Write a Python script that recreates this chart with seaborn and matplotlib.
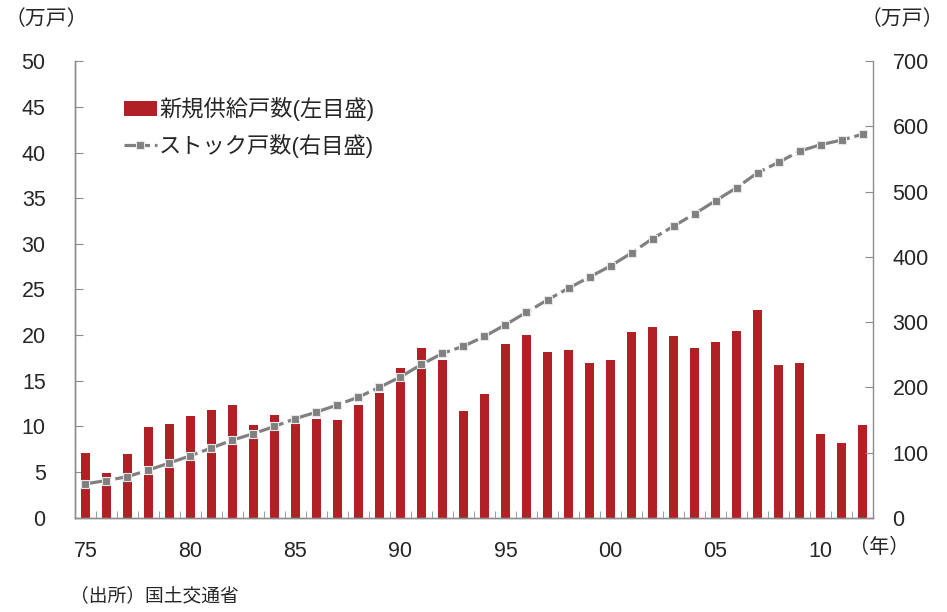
import numpy as np
import pandas as pd
import seaborn as sns
import matplotlib.pyplot as plt
from matplotlib.ticker import FixedLocator

years = list(range(1975, 2013))
new_supply = [7.1, 4.9, 7.0, 9.9, 10.3, 11.1, 11.8, 12.4, 10.2, 11.3,
              10.3, 10.8, 10.7, 12.3, 13.7, 16.4, 18.6, 17.3, 11.7, 13.6,
              19.0, 20.0, 18.2, 18.4, 16.9, 17.3, 20.3, 20.9, 19.9, 18.6,
              19.3, 20.5, 22.7, 16.7, 17.0, 9.2, 8.2, 10.2]
stock = [52, 57, 63, 73, 84, 95, 107, 119, 129, 140,
         152, 162, 173, 185, 200, 216, 235, 252, 263, 278,
         296, 315, 334, 352, 369, 386, 406, 428, 447, 466,
         486, 506, 529, 545, 562, 572, 579, 588]
year_labels = ['75', '80', '85', '90', '95', '00', '05', '10']

df = pd.DataFrame({'year': years, 'new': new_supply, 'stock': stock})

sns.set_style('white')
plt.rcParams['font.family'] = ['Liberation Sans', 'Noto Sans CJK JP']
AX_COLOR = '#8c8c8c'

fig = plt.figure(figsize=(9.47, 6.12), dpi=100)
ax = fig.add_axes([0.079, 0.154, 0.843, 0.746])
sns.barplot(data=df, x='year', y='new', native_scale=True, width=0.4,
            color='#b02025', saturation=1, edgecolor='none', ax=ax)
ax.set_xlim(1974.5, 2012.5)
ax.set_ylim(0, 50)
ax.set_yticks(np.arange(0, 51, 5))
ax.set_xticks([1975, 1980, 1985, 1990, 1995, 2000, 2005, 2010])
ax.set_xticklabels(year_labels)
ax.xaxis.set_minor_locator(FixedLocator(np.arange(1974.5, 2013, 1)))
ax.tick_params(axis='x', which='major', length=0, pad=17, labelsize=15.5)
ax.tick_params(axis='x', which='minor', direction='in', length=5,
               color=AX_COLOR, bottom=True)
ax.tick_params(axis='y', direction='in', length=6, color=AX_COLOR,
               left=True, pad=21, labelsize=15.5)
ax.set_xlabel('')
ax.set_ylabel('')

ax2 = ax.twinx()
sns.lineplot(data=df, x='year', y='stock', color='#808080', linewidth=2.3,
             marker='s', markersize=6, markerfacecolor='#808080',
             markeredgecolor='#e6e6e6', markeredgewidth=0.8, ax=ax2)
ax2.lines[0].set_dashes([8, 1.5])
ax2.set_ylim(0, 700)
ax2.set_yticks(np.arange(0, 701, 100))
ax2.tick_params(axis='y', direction='in', length=6, color=AX_COLOR,
                right=True, pad=14, labelsize=15.5)
ax2.set_ylabel('')

for a in (ax, ax2):
    a.spines['top'].set_visible(False)
    for s in ('left', 'right', 'bottom'):
        a.spines[s].set_color(AX_COLOR)
        a.spines[s].set_linewidth(1.0)
ax.spines['right'].set_visible(False)

handles = [ax.containers[0].patches[0], ax2.lines[0]]
labels = ['新規供給戸数(左目盛)', 'ストック戸数(右目盛)']
ax2.legend(handles, labels, loc='upper left', bbox_to_anchor=(0.05, 0.94),
           frameon=False, fontsize=16, handlelength=1.5, handletextpad=0.1,
           labelspacing=0.55, borderaxespad=0)

fig.text(0.005, 0.968, '（万戸）', fontsize=15, va='center', ha='left')
fig.text(0.997, 0.968, '（万戸）', fontsize=15, va='center', ha='right')
fig.text(0.897, 0.106, '（年）', fontsize=14.5, va='center', ha='left')
fig.text(0.074, 0.025, '（出所）国土交通省', fontsize=13.5, va='center', ha='left')

fig.savefig('out.png', dpi=100)
